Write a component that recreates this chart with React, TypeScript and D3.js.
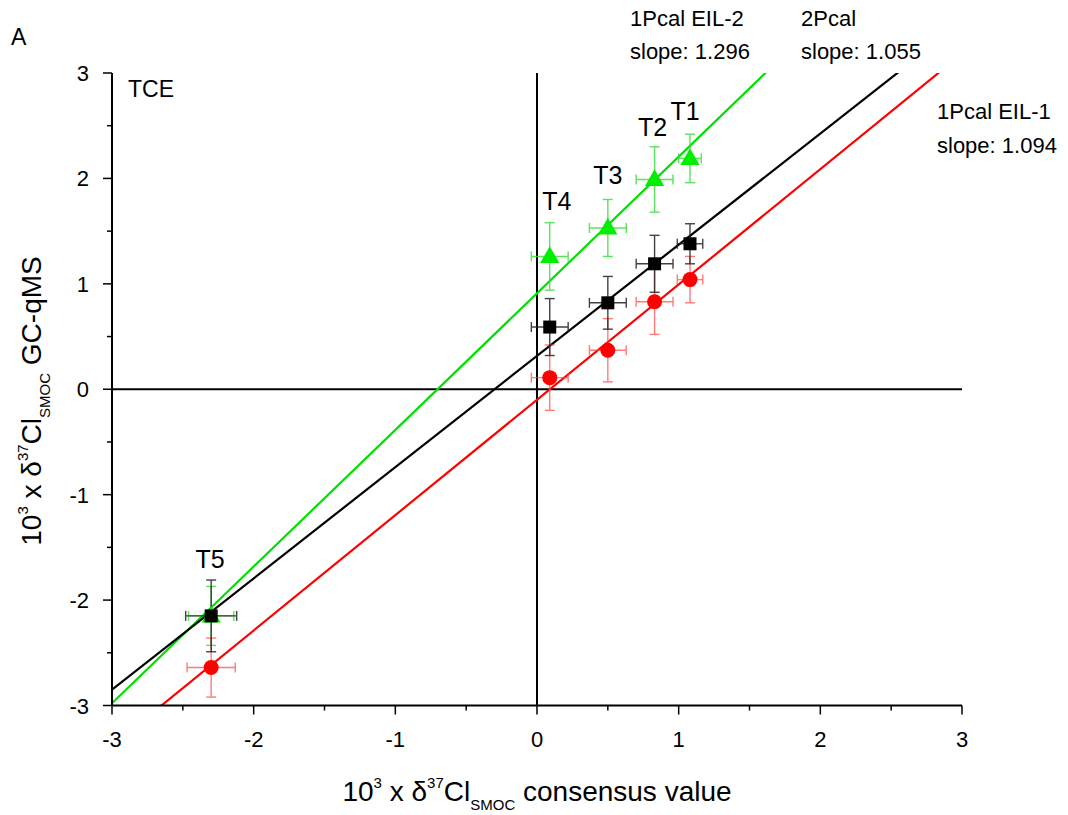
import React from "react";
import * as d3 from "d3";

const samples = ["T1", "T2", "T3", "T4", "T5"];
const xVals = [1.08, 0.83, 0.5, 0.09, -2.3];
const xErrSmall = [0.09, 0.13, 0.13, 0.13, 0.18];

const blackY = [1.38, 1.19, 0.82, 0.59, -2.15];
const blackYErr = [0.19, 0.27, 0.25, 0.27, 0.34];
const greenY = [2.19, 1.99, 1.53, 1.26, -2.15];
const greenYErr = [0.23, 0.31, 0.27, 0.32, 0.28];
const greenXErr = [0.08, 0.13, 0.13, 0.13, 0.16];
const redY = [1.04, 0.83, 0.37, 0.11, -2.64];
const redYErr = [0.22, 0.31, 0.3, 0.31, 0.28];
const redXErr = [0.09, 0.13, 0.13, 0.13, 0.17];

const fits = [
  { name: "1Pcal EIL-2", slope: 1.296, intercept: 0.91, color: "#00e000" },
  { name: "2Pcal", slope: 1.055, intercept: 0.316, color: "#000000" },
  { name: "1Pcal EIL-1", slope: 1.094, intercept: -0.1, color: "#ff0000" },
];

const xTicks = [-3, -2, -1, 0, 1, 2, 3];
const yTicks = [-3, -2, -1, 0, 1, 2, 3];
const minorTicks = [-2.5, -1.5, -0.5, 0.5, 1.5, 2.5];

// label offsets (px) relative to the topmost marker of each sample
const labelOffsets = [
  { dx: -5, dy: -38 },
  { dx: -2, dy: -43 },
  { dx: 0, dy: -44 },
  { dx: 7, dy: -46 },
  { dx: -1, dy: -48 },
];

const FONT = "Liberation Sans, Arial, sans-serif";

export default function App() {
  const W = 1068, H = 815;
  const x = d3.scaleLinear().domain([-3, 3]).range([112, 962]);
  const y = d3.scaleLinear().domain([-3, 3]).range([705.5, 73]);
  const [x0, x1] = x.range();
  const [yb, yt] = y.range();

  const errBars = (xs: number[], ys: number[], xe: number[], ye: number[], color: string, op: number, key: string) =>
    xs.map((xv, i) => {
      const cx = x(xv), cy = y(ys[i]);
      const xl = x(xv - xe[i]), xr = x(xv + xe[i]);
      const yu = y(ys[i] + ye[i]), yd = y(ys[i] - ye[i]);
      const cap = 5;
      return (
        <g key={key + i} stroke={color} strokeWidth={1.4} opacity={op} fill="none">
          <line x1={cx} x2={cx} y1={yu} y2={yd} />
          <line x1={cx - cap} x2={cx + cap} y1={yu} y2={yu} />
          <line x1={cx - cap} x2={cx + cap} y1={yd} y2={yd} />
          <line x1={xl} x2={xr} y1={cy} y2={cy} />
          <line x1={xl} x2={xl} y1={cy - cap} y2={cy + cap} />
          <line x1={xr} x2={xr} y1={cy - cap} y2={cy + cap} />
        </g>
      );
    });

  const tri = d3.symbol().type(d3.symbolTriangle).size(160)();

  return (
    <svg width={W} height={H} style={{ position: "absolute", left: 0, top: 0, background: "#fff" }} fontFamily={FONT}>
      <defs>
        <clipPath id="plot">
          <rect x={x0} y={yt} width={x1 - x0} height={yb - yt} />
        </clipPath>
      </defs>
      <rect width={W} height={H} fill="#fff" />
      <text x={11} y={45} fontSize={23}>A</text>
      <text x={128} y={97} fontSize={23}>TCE</text>

      {/* zero lines */}
      <line x1={x(0)} x2={x(0)} y1={yt} y2={yb} stroke="#000" strokeWidth={2} />
      <line x1={x0} x2={x1} y1={y(0)} y2={y(0)} stroke="#000" strokeWidth={2} />

      {/* fit lines */}
      <g clipPath="url(#plot)">
        {fits.map((f) => (
          <line key={f.name} x1={x(-3)} y1={y(f.slope * -3 + f.intercept)} x2={x(3)} y2={y(f.slope * 3 + f.intercept)} stroke={f.color} strokeWidth={2.2} />
        ))}
      </g>

      {/* error bars */}
      {errBars(xVals, greenY, greenXErr, greenYErr, "#33dd33", 0.8, "g")}
      {errBars(xVals, redY, redXErr, redYErr, "#ff4444", 0.7, "r")}
      {errBars(xVals, blackY, xErrSmall, blackYErr, "#222", 0.85, "b")}

      {/* markers */}
      {xVals.map((xv, i) => (
        <path key={"gt" + i} d={tri!} transform={`translate(${x(xv)},${y(greenY[i]) + 1})`} fill="#00ee00" />
      ))}
      {xVals.map((xv, i) => (
        <circle key={"rc" + i} cx={x(xv)} cy={y(redY[i])} r={7.5} fill="#ff0000" />
      ))}
      {xVals.map((xv, i) => (
        <rect key={"bs" + i} x={x(xv) - 6.5} y={y(blackY[i]) - 6.5} width={13} height={13} fill="#000" />
      ))}

      {/* sample labels */}
      {samples.map((s, i) => {
        const lp = labelOffsets[i];
        const yTop = i === 4 ? blackY[i] : greenY[i];
        return (
          <text key={s} x={x(xVals[i]) + lp.dx} y={y(yTop) + lp.dy} fontSize={25} textAnchor="middle">{s}</text>
        );
      })}

      {/* axes */}
      <line x1={x0} x2={x1} y1={yb} y2={yb} stroke="#000" strokeWidth={2} />
      <line x1={x0} x2={x0} y1={yt} y2={yb} stroke="#000" strokeWidth={2} />
      {xTicks.map((t) => (
        <g key={"xt" + t}>
          <line x1={x(t)} x2={x(t)} y1={yb} y2={yb + 9} stroke="#000" strokeWidth={1.5} />
          <text x={x(t)} y={747} fontSize={22} textAnchor="middle">{t}</text>
        </g>
      ))}
      {minorTicks.map((t) => (
        <line key={"xm" + t} x1={x(t)} x2={x(t)} y1={yb} y2={yb + 5} stroke="#000" strokeWidth={1.5} />
      ))}
      {yTicks.map((t) => (
        <g key={"yt" + t}>
          <line x1={x0} x2={x0 - 9} y1={y(t)} y2={y(t)} stroke="#000" strokeWidth={1.5} />
          <text x={89} y={y(t) + 8} fontSize={22} textAnchor="end">{t}</text>
        </g>
      ))}
      {minorTicks.map((t) => (
        <line key={"ym" + t} x1={x0} x2={x0 - 5} y1={y(t)} y2={y(t)} stroke="#000" strokeWidth={1.5} />
      ))}

      {/* axis titles */}
      <text x={x(0)} y={801} fontSize={28} textAnchor="middle">
        10<tspan fontSize={15} dy={-13}>3</tspan>
        <tspan dy={13}> x δ</tspan>
        <tspan fontSize={15} dy={-13}>37</tspan>
        <tspan dy={13}>Cl</tspan>
        <tspan fontSize={15} dy={9}>SMOC</tspan>
        <tspan dy={-9}> consensus value</tspan>
      </text>
      <text transform={`translate(41,401) rotate(-90)`} fontSize={28} textAnchor="middle">
        10<tspan fontSize={15} dy={-13}>3</tspan>
        <tspan dy={13}> x δ</tspan>
        <tspan fontSize={15} dy={-13}>37</tspan>
        <tspan dy={13}>Cl</tspan>
        <tspan fontSize={15} dy={9}>SMOC</tspan>
        <tspan dy={-9}> GC-qMS</tspan>
      </text>

      {/* fit annotations */}
      <text x={630} y={26} fontSize={22}>1Pcal EIL-2</text>
      <text x={630} y={59} fontSize={22}>slope: 1.296</text>
      <text x={801} y={26} fontSize={22}>2Pcal</text>
      <text x={801} y={59} fontSize={22}>slope: 1.055</text>
      <text x={937} y={119} fontSize={22}>1Pcal EIL-1</text>
      <text x={937} y={153} fontSize={22}>slope: 1.094</text>
    </svg>
  );
}
